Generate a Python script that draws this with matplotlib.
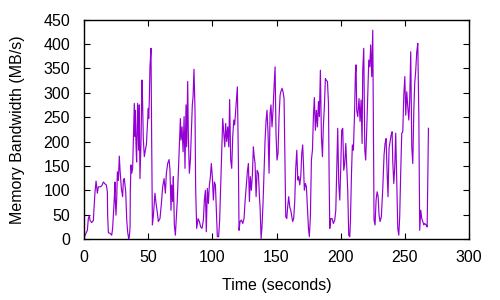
import matplotlib
matplotlib.use("Agg")
import matplotlib.pyplot as plt

time_s = [
    0.5, 2.6, 3.4, 4.2, 4.7, 6.0, 7.3, 7.8, 8.6, 9.4, 10.4, 11.2, 12.5, 13.8, 15.1, 16.4, 17.4, 18.2, 18.4,
    19.0, 20.3, 21.6, 22.3, 23.4, 24.2, 24.4, 24.9, 25.5, 26.0, 26.8, 27.5, 28.1, 29.1, 30.1, 30.7, 31.4,
    32.5, 33.3, 34.0, 34.8, 35.3, 35.9, 36.1, 36.6, 37.2, 37.9, 38.5, 39.2, 39.8, 40.0, 40.5, 41.0, 41.8,
    42.6, 43.1, 43.6, 44.4, 45.2, 45.7, 46.2, 47.0, 47.8, 48.6, 49.4, 50.1, 50.4, 50.9, 51.4, 52.2, 52.7,
    53.3, 54.0, 55.3, 56.1, 57.2, 57.9, 59.2, 60.3, 61.3, 62.4, 63.4, 64.2, 65.2, 66.3,
    67.0, 67.8, 68.3, 69.1, 69.6, 70.4, 71.2, 72.0, 72.7, 73.5, 74.3, 75.1, 75.6, 76.4, 77.2, 78.0, 78.7,
    79.5, 80.0, 80.8, 81.3, 82.1, 82.9, 83.7, 84.4, 85.0, 85.7, 86.5, 87.0, 87.8, 88.9, 89.9, 90.9, 92.0,
    93.0, 93.8, 94.6, 95.3, 96.1, 96.9, 97.7, 98.5, 99.2, 100.0, 100.8, 101.6, 102.4, 103.1, 103.9, 104.9,
    105.7, 106.5, 107.3, 108.1, 108.9, 109.7, 110.4, 111.2, 112.0, 112.8, 113.5, 114.3, 115.1, 115.9,
    116.7, 117.4, 118.2, 119.0, 119.5, 120.3, 120.8, 121.6, 122.6, 123.7, 124.7, 125.5, 126.3, 127.3,
    128.1, 128.9, 129.6, 130.4, 131.2, 132.0, 132.5, 133.3, 134.1, 134.9, 135.9, 136.7,
    137.2, 138.0, 138.7, 139.5, 140.3, 141.1, 141.9, 142.6, 143.4, 144.2, 145.0, 145.7, 146.5, 147.3,
    148.1, 148.9, 149.6, 150.4, 151.2, 152.0, 152.8, 153.5, 154.3, 155.1, 155.9, 156.7, 157.2, 158.0,
    158.7, 159.5, 160.3, 161.1, 161.9, 162.6, 163.4, 164.2, 165.0, 165.8, 166.6, 167.3, 168.1, 168.9,
    169.7, 170.4, 171.0, 171.7, 172.5, 173.3, 174.1, 174.9, 175.6, 176.4, 177.2, 178.0, 178.8, 179.5,
    180.3, 181.1, 181.9, 182.7, 183.4, 184.2, 185.0, 185.8, 186.5, 187.3, 188.1, 188.9, 189.7, 190.5,
    191.0, 191.5, 192.3, 193.3, 194.3, 195.4, 196.2, 196.9, 197.7, 198.5, 199.3, 200.0, 200.8, 201.6,
    202.4, 203.2, 204.0, 204.7, 205.5, 206.3, 207.1,
    207.6, 208.4, 209.1, 209.9, 210.7, 211.5, 212.0, 212.5, 213.3, 214.3, 215.1, 215.9, 216.7, 217.2,
    218.0, 218.8, 219.5, 220.3, 221.1, 221.9, 222.7, 223.4, 224.2, 225.0, 225.5, 226.0, 226.8, 227.6,
    228.4, 229.2, 229.9, 230.7, 231.7, 232.8, 233.8, 234.6, 235.4, 236.2, 236.9, 237.7, 238.5, 239.3,
    240.1, 240.6, 241.4, 242.1, 242.9, 243.7, 244.5, 245.3, 246.0, 246.8, 247.6, 248.4, 249.2, 250.0,
    250.7, 251.5, 252.3, 253.1, 253.8, 254.6, 255.4, 256.2, 257.0, 257.7, 258.5, 259.3, 260.1, 260.9,
    261.6, 262.4, 263.2, 264.0, 264.8, 265.5, 266.6, 267.4, 267.9, 268.4,
]

bandwidth_mbs = [
    6, 18, 43, 48, 38, 34, 38, 63, 97, 119, 94, 107, 107, 109, 117, 113, 111, 97, 51,
    13, 12, 8, 22, 73, 117, 82, 49, 83, 138, 120, 170, 141, 104, 87, 121, 124,
    97, 39, 15, 1, 4, 25, 100, 152, 135, 145, 203, 278, 210, 264, 196, 158, 278,
    182, 275, 124, 196, 326, 275, 206, 169, 182, 193, 234, 268, 247, 285, 353, 391, 210,
    29, 46, 94, 74, 53, 36, 42, 73, 107, 124, 94, 135, 155, 163,
    141, 59, 111, 77, 128, 29, 8, 46, 80, 135, 189, 247, 203, 230, 179, 251, 145,
    275, 189, 323, 210, 135, 162, 223, 275, 292, 348, 264, 104, 22, 42, 36, 25, 22,
    39, 80, 100, 15, 104, 73, 111, 128, 155, 128, 80, 117, 111, 59, 5, 5,
    39, 107, 169, 247, 217, 189, 237, 200, 230, 189, 286, 162, 145, 210,
    244, 234, 264, 293, 312, 162, 18, 36, 39, 32, 42, 77, 104, 138,
    155, 77, 128, 100, 131, 189, 172, 155, 87, 141, 135, 87,
    66, 1, 25, 73, 135, 203, 244, 264, 217, 135, 258, 275, 230, 264,
    312, 353, 217, 162, 176, 251, 295, 303, 309, 302, 288, 148, 46, 42,
    66, 87, 66, 59, 46, 36, 42, 77, 145, 182, 121, 128, 111, 128,
    176, 193, 155, 100, 114, 107, 66, 22, 5, 46, 162, 182, 254, 290,
    223, 264, 230, 282, 251, 346, 210, 169, 230, 271, 329, 325, 323, 278,
    131, 22, 42, 42, 32, 39, 59, 141, 227, 114, 80, 141, 223, 227,
    141, 155, 196, 152, 100, 8, 5,
    36, 131, 193, 182, 247, 340, 357, 264, 251, 288, 241, 285, 196, 346,
    391, 182, 162, 223, 295, 367, 353, 398, 333, 428, 234, 39, 29, 80,
    97, 87, 49, 36, 46, 104, 172, 196, 206, 135, 87, 186, 200, 213,
    220, 159, 114, 145, 217, 124, 22, 8, 46, 138, 217, 220, 295, 333,
    254, 302, 271, 244, 285, 384, 189, 155, 264, 319, 346, 384, 401, 254,
    18, 59, 42, 36, 29, 32, 29, 25, 128, 227,
]

x_ticks = [0, 50, 100, 150, 200, 250, 300]
y_ticks = [0, 50, 100, 150, 200, 250, 300, 350, 400, 450]

plt.rcParams['font.family'] = ['Liberation Sans', 'DejaVu Sans']

fig = plt.figure(figsize=(5, 3), dpi=100)
ax = fig.add_axes([0.168, 0.203, 0.77, 0.732])
ax.plot(time_s, bandwidth_mbs, color='#9400D3', lw=0.85)

ax.set_xlim(0, 300)
ax.set_ylim(0, 450)
ax.set_xticks(x_ticks)
ax.set_yticks(y_ticks)
ax.tick_params(direction='in', length=4.5, width=0.8, top=True, right=True,
               labelsize=11.5, colors='black')
ax.tick_params(axis='x', pad=8)
ax.tick_params(axis='y', pad=10)
for s in ax.spines.values():
    s.set_linewidth(1.0)
ax.set_xlabel('Time (seconds)', fontsize=11.5, labelpad=9)
ax.set_ylabel('Memory Bandwidth (MB/s)', fontsize=11.5, labelpad=13)

fig.savefig('out.png', dpi=100)
